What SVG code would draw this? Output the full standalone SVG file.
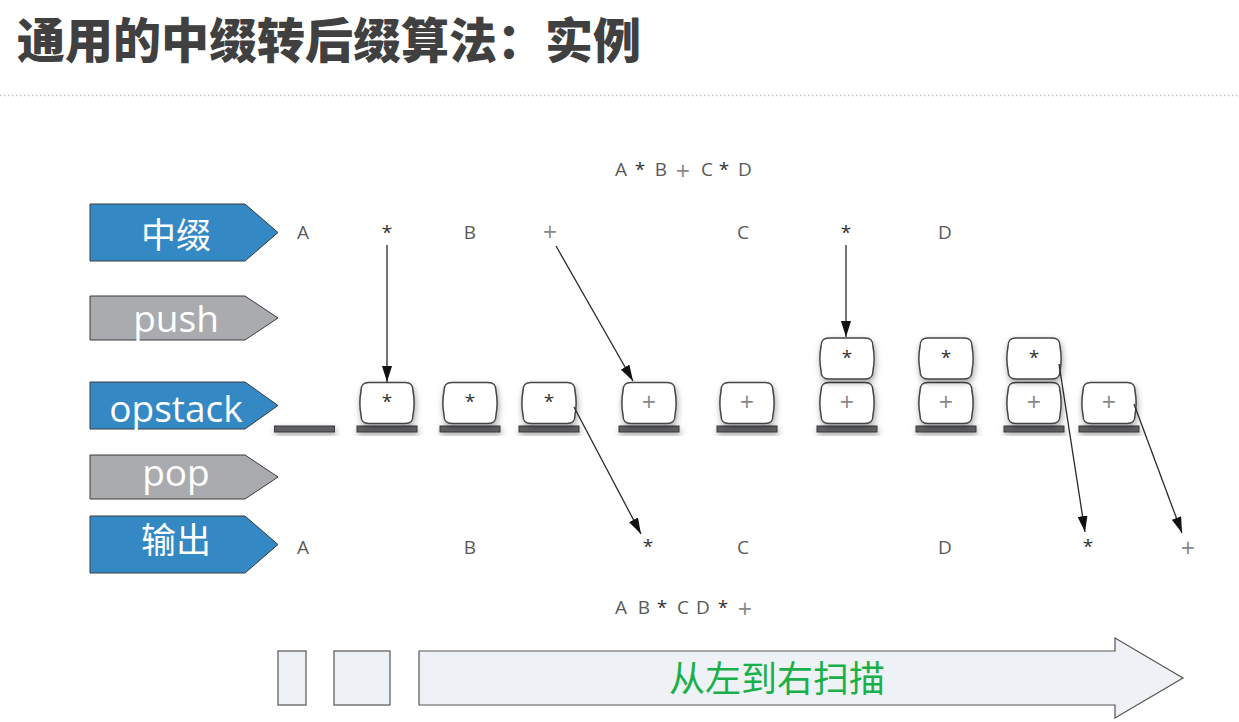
<svg xmlns="http://www.w3.org/2000/svg" xmlns:xlink="http://www.w3.org/1999/xlink" width="1239" height="722" viewBox="0 0 1239 722">
<style>
.title{font-family:"Noto Sans CJK SC","Noto Sans",sans-serif;font-weight:900;font-size:48px;fill:#404040}
.lab-cjk{font-family:"Noto Sans CJK SC","Noto Sans",sans-serif;font-size:35px;fill:#ffffff;text-anchor:middle}
.lab-en{font-family:"Open Sans","Noto Sans",sans-serif;font-size:37px;fill:#ffffff;text-anchor:middle}
.blue{fill:#3488c4;stroke:#3a3a3a;stroke-width:1}
.gray{fill:#a9abae;stroke:#3a3a3a;stroke-width:1}
.sym{font-family:"Open Sans","DejaVu Sans",sans-serif;font-size:19px;fill:#5a5a5a;text-anchor:middle}
.ast{font-family:"Open Sans","DejaVu Sans",sans-serif;font-size:19px;fill:#333;text-anchor:middle}
.plus{font-family:"Open Sans","DejaVu Sans",sans-serif;font-size:25px;fill:#888;text-anchor:middle}
.conn line{stroke:#2a2a2a;stroke-width:1.3;marker-end:url(#ah)}
.scan{fill:#eef2f6;stroke:#555;stroke-width:1.2}
.scantext{font-family:"Noto Sans CJK SC","Noto Sans",sans-serif;font-size:36px;fill:#19b04a;text-anchor:middle}
</style>
<defs>
<filter id="sh" x="-40%" y="-40%" width="180%" height="200%">
<feDropShadow dx="1" dy="3" stdDeviation="3" flood-color="#000" flood-opacity="0.35"/>
</filter>
<path id="box" d="M -18,-20.5 H 18 C 24,-20.5 26,-18 26,-12 C 27.5,-4 27.5,4 26,12 C 26,18 24,20.5 18,20.5 H -18 C -24,20.5 -26,18 -26,12 C -27.5,4 -27.5,-4 -26,-12 C -26,-18 -24,-20.5 -18,-20.5 Z" fill="#ffffff" stroke="#444" stroke-width="1.5" filter="url(#sh)"/>
<rect id="plate" x="-30" y="-3" width="60" height="6" fill="#5f6163" stroke="#3a3a3a" stroke-width="1" filter="url(#sh)"/>
<marker id="ah" viewBox="0 0 16 10" refX="16" refY="5" markerWidth="16" markerHeight="10" markerUnits="userSpaceOnUse" orient="auto">
<path d="M0,0 L16,5 L0,10 Z" fill="#111"/>
</marker>
</defs>
<rect width="1239" height="722" fill="#ffffff"/>
<text class="title" x="17" y="58">通用的中缀转后缀算法：实例</text>
<line x1="0" y1="95.5" x2="1239" y2="95.5" stroke="#c4c4c4" stroke-width="1.5" stroke-dasharray="1.5,2.5"/>

<g id="label-infix"><path class="blue" d="M90,204 H245 L278,232.5 L245,261 H90 Z"/><text class="lab-cjk" x="176" y="248">中缀</text></g>
<g id="label-push"><path class="gray" d="M90,296 H245 L278,318 L245,340 H90 Z"/><text class="lab-en" x="176" y="332">push</text></g>
<g id="label-opstack"><path class="blue" d="M90,382 H245 L278,405.5 L245,429 H90 Z"/><text class="lab-en" x="176" y="422">opstack</text></g>
<g id="label-pop"><path class="gray" d="M90,455 H245 L278,477 L245,499 H90 Z"/><text class="lab-en" x="176" y="486">pop</text></g>
<g id="label-output"><path class="blue" d="M90,516 H245 L278,544.5 L245,573 H90 Z"/><text class="lab-cjk" x="176" y="553">输出</text></g>

<g id="infix-expr">
<text class="sym" x="621" y="176">A</text><text class="ast" x="640" y="176">*</text><text class="sym" x="661" y="176">B</text><text class="plus" x="683" y="180">+</text><text class="sym" x="707" y="176">C</text><text class="ast" x="724" y="176">*</text><text class="sym" x="745" y="176">D</text>
</g>
<g id="infix-row">
<text class="sym" x="303" y="239">A</text><text class="ast" x="387" y="239">*</text><text class="sym" x="470" y="239">B</text><text class="plus" x="550" y="241">+</text><text class="sym" x="743" y="239">C</text><text class="ast" x="846" y="239">*</text><text class="sym" x="945" y="239">D</text>
</g>

<g id="stack-0"><use xlink:href="#plate" x="304.5" y="429"/></g>
<g id="stack-1"><use xlink:href="#plate" x="387" y="429"/><use xlink:href="#box" x="387" y="403"/><text class="ast" x="387" y="408">*</text></g>
<g id="stack-2"><use xlink:href="#plate" x="470" y="429"/><use xlink:href="#box" x="470" y="403"/><text class="ast" x="470" y="408">*</text></g>
<g id="stack-3"><use xlink:href="#plate" x="549" y="429"/><use xlink:href="#box" x="549" y="403"/><text class="ast" x="549" y="408">*</text></g>
<g id="stack-4"><use xlink:href="#plate" x="649" y="429"/><use xlink:href="#box" x="649" y="403"/><text class="plus" x="649" y="411">+</text></g>
<g id="stack-5"><use xlink:href="#plate" x="747" y="429"/><use xlink:href="#box" x="747" y="403"/><text class="plus" x="747" y="411">+</text></g>
<g id="stack-6"><use xlink:href="#plate" x="847" y="429"/><use xlink:href="#box" x="847" y="403"/><text class="plus" x="847" y="411">+</text><use xlink:href="#box" x="847" y="358.5"/><text class="ast" x="847" y="364">*</text></g>
<g id="stack-7"><use xlink:href="#plate" x="946" y="429"/><use xlink:href="#box" x="946" y="403"/><text class="plus" x="946" y="411">+</text><use xlink:href="#box" x="946" y="358.5"/><text class="ast" x="946" y="364">*</text></g>
<g id="stack-8"><use xlink:href="#plate" x="1034" y="429"/><use xlink:href="#box" x="1034" y="403"/><text class="plus" x="1034" y="411">+</text><use xlink:href="#box" x="1034" y="358.5"/><text class="ast" x="1034" y="364">*</text></g>
<g id="stack-9"><use xlink:href="#plate" x="1109" y="429"/><use xlink:href="#box" x="1109" y="403"/><text class="plus" x="1109" y="411">+</text></g>

<g id="output-row">
<text class="sym" x="303" y="554">A</text><text class="sym" x="470" y="554">B</text><text class="ast" x="648" y="553">*</text><text class="sym" x="743" y="554">C</text><text class="sym" x="945" y="554">D</text><text class="ast" x="1088" y="553">*</text><text class="plus" x="1188" y="557">+</text>
</g>
<g id="postfix-expr">
<text class="sym" x="621" y="614">A</text><text class="sym" x="644" y="614">B</text><text class="ast" x="662" y="614">*</text><text class="sym" x="683" y="614">C</text><text class="sym" x="703" y="614">D</text><text class="ast" x="723" y="614">*</text><text class="plus" x="745" y="618">+</text>
</g>

<g id="connectors" class="conn">
<line x1="387" y1="245" x2="387" y2="382"/>
<line x1="556" y1="246" x2="633" y2="381"/>
<line x1="846" y1="245" x2="846" y2="337"/>
<line x1="574" y1="407" x2="641" y2="534"/>
<line x1="1059" y1="364" x2="1085" y2="532"/>
<line x1="1134" y1="404" x2="1182" y2="533"/>
</g>

<g id="scan">
<rect class="scan" x="278" y="651" width="28" height="54"/>
<rect class="scan" x="334" y="651" width="56" height="54"/>
<path class="scan" d="M419,651 H1115 V638 L1183,678 L1115,718 V705 H419 Z"/>
<text class="scantext" x="777" y="692">从左到右扫描</text>
</g>
</svg>
